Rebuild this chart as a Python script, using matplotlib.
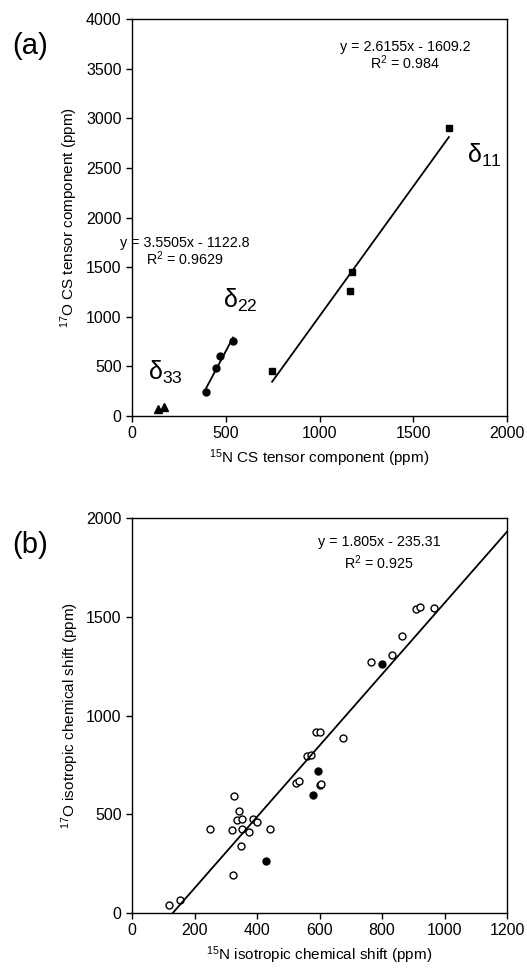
import numpy as np
import matplotlib
matplotlib.use('Agg')
import matplotlib.pyplot as plt

plt.rcParams['font.family'] = ['Liberation Sans', 'DejaVu Sans']
plt.rcParams['mathtext.default'] = 'regular'
plt.rcParams['font.size'] = 11

# panel (a): CS tensor components
d11_n = [747, 1163, 1173, 1690]
d11_o = [450, 1260, 1450, 2900]
d22_n = [395, 448, 469, 539]
d22_o = [245, 485, 605, 755]
d33_n = [140, 172]
d33_o = [75, 92]

# panel (b): isotropic shifts
iso_open_n = [118, 154, 323, 348, 249, 319, 353, 374, 441, 335, 353, 386, 401, 342, 327,
              525, 533, 600, 606, 560, 572, 590, 602, 675, 766, 831, 864, 908, 922, 967]
iso_open_o = [41, 64, 194, 339, 424, 418, 424, 411, 426, 471, 478, 478, 462, 516, 594,
              660, 668, 650, 652, 795, 800, 918, 918, 885, 1269, 1305, 1403, 1537, 1547, 1542]
iso_fill_n = [429, 578, 596, 801]
iso_fill_o = [265, 600, 720, 1259]

fig = plt.figure(figsize=(5.27, 9.77), dpi=100)
ax1 = fig.add_axes([0.2505, 0.5742, 0.7116, 0.4063])
ax2 = fig.add_axes([0.2505, 0.0655, 0.7116, 0.4043])

for ax in (ax1, ax2):
  ax.tick_params(direction='out', length=4, width=1, labelsize=11.5)
  for s in ax.spines.values():
    s.set_linewidth(1)

# (a)
ax1.plot(d11_n, d11_o, 's', color='black', ms=5)
ax1.plot(d22_n, d22_o, 'o', color='black', ms=5)
ax1.plot(d33_n, d33_o, '^', color='black', ms=6)
for xs, (m, b) in ((d11_n, (2.6155, -1609.2)), (d22_n, (3.5505, -1122.8))):
  xx = np.array([min(xs), max(xs)])
  ax1.plot(xx, m*xx + b, color='black', lw=1.3)
ax1.set_xlim(0, 2000)
ax1.set_ylim(0, 4000)
ax1.set_xticks([0, 500, 1000, 1500, 2000])
ax1.set_yticks(range(0, 4001, 500))
ax1.set_xlabel('$^{15}$N CS tensor component (ppm)', fontsize=11)
ax1.set_ylabel('$^{17}$O CS tensor component (ppm)', fontsize=11)
ax1.text(1456, 3718, 'y = 2.6155x - 1609.2', ha='center', va='center', fontsize=10.3)
ax1.text(1456, 3557, 'R$^2$ = 0.984', ha='center', va='center', fontsize=10.3)
ax1.text(283, 1743, 'y = 3.5505x - 1122.8', ha='center', va='center', fontsize=10.3)
ax1.text(283, 1582, 'R$^2$ = 0.9629', ha='center', va='center', fontsize=10.3)
ax1.text(1877, 2630, 'δ$_{11}$', ha='center', va='center', fontsize=18)
ax1.text(576, 1169, 'δ$_{22}$', ha='center', va='center', fontsize=18)
ax1.text(176, 443, 'δ$_{33}$', ha='center', va='center', fontsize=18)
fig.text(30/527, 1-46/977, '(a)', ha='center', va='center', fontsize=21)

# (b)
ax2.plot(iso_open_n, iso_open_o, 'o', mfc='white', mec='black', mew=1, ms=5)
ax2.plot(iso_fill_n, iso_fill_o, 'o', color='black', ms=5)
xx = np.array([235.31/1.805, 1200])
ax2.plot(xx, 1.805*xx - 235.31, color='black', lw=1.3)
ax2.set_xlim(0, 1200)
ax2.set_ylim(0, 2000)
ax2.set_xticks(range(0, 1201, 200))
ax2.set_yticks(range(0, 2001, 500))
ax2.set_xlabel('$^{15}$N isotropic chemical shift (ppm)', fontsize=11)
ax2.set_ylabel('$^{17}$O isotropic chemical shift (ppm)', fontsize=11)
ax2.text(790, 1880, 'y = 1.805x - 235.31', ha='center', va='center', fontsize=10.3)
ax2.text(790, 1773, 'R$^2$ = 0.925', ha='center', va='center', fontsize=10.3)
fig.text(30/527, 1-545/977, '(b)', ha='center', va='center', fontsize=21)

fig.savefig('out.png', dpi=100)
